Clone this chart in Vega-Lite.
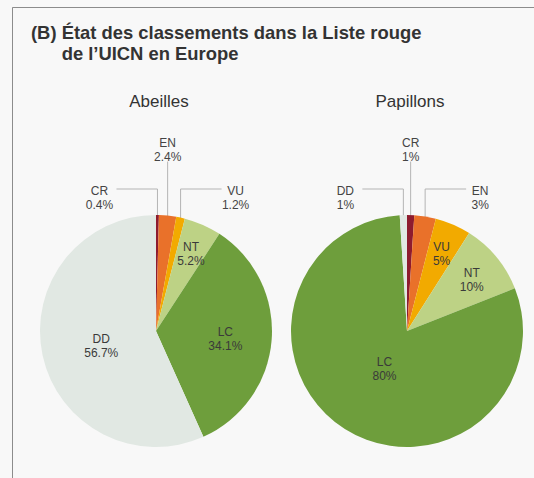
{
  "$schema": "https://vega.github.io/schema/vega-lite/v6.json",
  "width": 522,
  "height": 471,
  "autosize": {"type": "none"},
  "padding": {"left": 12, "top": 7, "right": 0, "bottom": 0},
  "background": "#f8f8f8",
  "title": {
    "text": ["(B) État des classements dans la Liste rouge", "\u200b\u00a0\u00a0\u00a0\u00a0\u00a0\u00a0de l’UICN en Europe"],
    "anchor": "start",
    "frame": "group",
    "orient": "top",
    "offset": -75.2,
    "dx": 19,
    "baseline": "bottom",
    "lineHeight": 21,
    "font": "Liberation Sans",
    "fontSize": 18.4,
    "fontWeight": "bold",
    "color": "#333333"
  },
  "config": {
    "view": {"stroke": "#8c8c8c", "strokeWidth": 1, "strokeDash": [522, 993, 471]}
  },
  "data": {
    "values": [
      {"pie": "Abeilles", "cat": "CR", "value": 0.4, "order": 1},
      {"pie": "Abeilles", "cat": "EN", "value": 2.4, "order": 2},
      {"pie": "Abeilles", "cat": "VU", "value": 1.2, "order": 3},
      {"pie": "Abeilles", "cat": "NT", "value": 5.2, "order": 4},
      {"pie": "Abeilles", "cat": "LC", "value": 34.1, "order": 5},
      {"pie": "Abeilles", "cat": "DD", "value": 56.7, "order": 6},
      {"pie": "Papillons", "cat": "CR", "value": 1, "order": 1},
      {"pie": "Papillons", "cat": "EN", "value": 3, "order": 2},
      {"pie": "Papillons", "cat": "VU", "value": 5, "order": 3},
      {"pie": "Papillons", "cat": "NT", "value": 10, "order": 4},
      {"pie": "Papillons", "cat": "LC", "value": 80, "order": 5},
      {"pie": "Papillons", "cat": "DD", "value": 1, "order": 6}
    ]
  },
  "transform": [
    {"calculate": "datum.pie === 'Abeilles' ? 0 : 1", "as": "pi"},
    {"stack": "value", "groupby": ["pie"], "sort": [{"field": "order", "order": "ascending"}], "as": ["v0", "v1"]},
    {"calculate": "(datum.v0 + datum.v1) / 100 * PI", "as": "mid"},
    {"calculate": "datum.cat + '\\n' + format(datum.value, datum.pie === 'Abeilles' ? '.1f' : 'd') + '%'", "as": "label"},
    {"calculate": "datum.value < 4", "as": "outer"},
    {"calculate": "datum.mid > PI ? datum.mid - 2 * PI : datum.mid", "as": "sa"},
    {"window": [{"op": "row_number", "as": "rank"}], "groupby": ["pie", "outer"], "sort": [{"field": "sa", "order": "ascending"}]},
    {"calculate": "datum.pi + 0.46215 * sin(datum.mid)", "as": "ex"},
    {"calculate": "0.46215 * cos(datum.mid)", "as": "ey"}
  ],
  "layer": [
    {
      "transform": [
        {"filter": "datum.outer && datum.rank !== 2"},
        {"calculate": "datum.rank === 1 ? datum.ex - 0.1633 : datum.ex + 0.1633", "as": "hx"},
        {"calculate": "0.5657", "as": "hy"}
      ],
      "mark": {"type": "rule", "color": "#b4b4b4", "strokeWidth": 1},
      "encoding": {
        "x": {"field": "ex", "type": "quantitative", "scale": {"domain": [-0.57371, 1.50598], "nice": false, "zero": false}, "axis": null},
        "x2": {"field": "hx"},
        "y": {"field": "hy", "type": "quantitative", "scale": {"domain": [-0.58566, 1.29084], "nice": false, "zero": false}, "axis": null}
      }
    },
    {
      "transform": [
        {"filter": "datum.outer"},
        {"calculate": "datum.rank === 2 ? 0.675 : 0.5657", "as": "vt"},
        {"calculate": "datum.ey * 0.97", "as": "vb"}
      ],
      "mark": {"type": "rule", "color": "#b4b4b4", "strokeWidth": 1},
      "encoding": {
        "x": {"field": "ex", "type": "quantitative", "scale": {"domain": [-0.57371, 1.50598], "nice": false, "zero": false}, "axis": null},
        "y": {"field": "vt", "type": "quantitative", "scale": {"domain": [-0.58566, 1.29084], "nice": false, "zero": false}, "axis": null},
        "y2": {"field": "vb"}
      }
    },
    {
      "mark": {"type": "arc", "radius": 116},
      "encoding": {
        "x": {"field": "pi", "type": "quantitative", "stack": null, "scale": {"domain": [-0.57371, 1.50598], "nice": false, "zero": false}, "axis": null},
        "y": {"datum": 0, "type": "quantitative", "stack": null, "scale": {"domain": [-0.58566, 1.29084], "nice": false, "zero": false}, "axis": null},
        "theta": {"field": "v0", "type": "quantitative", "stack": null, "scale": {"domain": [0, 100], "range": [0, 6.283185307179586]}},
        "theta2": {"field": "v1"},
        "color": {
          "field": "cat", "type": "nominal", "legend": null,
          "scale": {"domain": ["CR", "EN", "VU", "NT", "LC", "DD"], "range": ["#8e1b2e", "#e9712a", "#f2aa00", "#bdd285", "#6e9e3c", "#e1e8e3"]}
        }
      }
    },
    {
      "transform": [
        {"filter": "!datum.outer"},
        {"calculate": "(90 - 0.6 * datum.value) / 251", "as": "r"},
        {"calculate": "datum.pi + datum.r * sin(datum.mid)", "as": "lx"},
        {"calculate": "datum.r * cos(datum.mid)", "as": "ly"}
      ],
      "mark": {"type": "text", "font": "Liberation Sans", "fontSize": 12, "lineHeight": 14, "lineBreak": "\n", "align": "center", "baseline": "middle", "color": "#3a3a3a", "dy": -4},
      "encoding": {
        "x": {"field": "lx", "type": "quantitative", "scale": {"domain": [-0.57371, 1.50598], "nice": false, "zero": false}, "axis": null},
        "y": {"field": "ly", "type": "quantitative", "scale": {"domain": [-0.58566, 1.29084], "nice": false, "zero": false}, "axis": null},
        "text": {"field": "label"}
      }
    },
    {
      "transform": [
        {"filter": "datum.outer"},
        {"calculate": "datum.rank === 1 ? datum.ex - 0.231 : datum.rank === 3 ? datum.ex + 0.2191 : datum.ex", "as": "olx"},
        {"calculate": "datum.rank === 2 ? 0.748 : 0.5577", "as": "oly"}
      ],
      "mark": {"type": "text", "font": "Liberation Sans", "fontSize": 12, "lineHeight": 14, "lineBreak": "\n", "align": "center", "baseline": "middle", "color": "#444444"},
      "encoding": {
        "x": {"field": "olx", "type": "quantitative", "scale": {"domain": [-0.57371, 1.50598], "nice": false, "zero": false}, "axis": null},
        "y": {"field": "oly", "type": "quantitative", "scale": {"domain": [-0.58566, 1.29084], "nice": false, "zero": false}, "axis": null},
        "text": {"field": "label"}
      }
    },
    {
      "transform": [{"filter": "datum.order === 1"}],
      "mark": {"type": "text", "font": "Liberation Sans", "fontSize": 17, "align": "center", "baseline": "alphabetic", "color": "#333333", "dx": 3},
      "encoding": {
        "x": {"field": "pi", "type": "quantitative", "scale": {"domain": [-0.57371, 1.50598], "nice": false, "zero": false}, "axis": null},
        "y": {"datum": 0.8924, "type": "quantitative", "scale": {"domain": [-0.58566, 1.29084], "nice": false, "zero": false}, "axis": null},
        "text": {"field": "pie"}
      }
    }
  ]
}
